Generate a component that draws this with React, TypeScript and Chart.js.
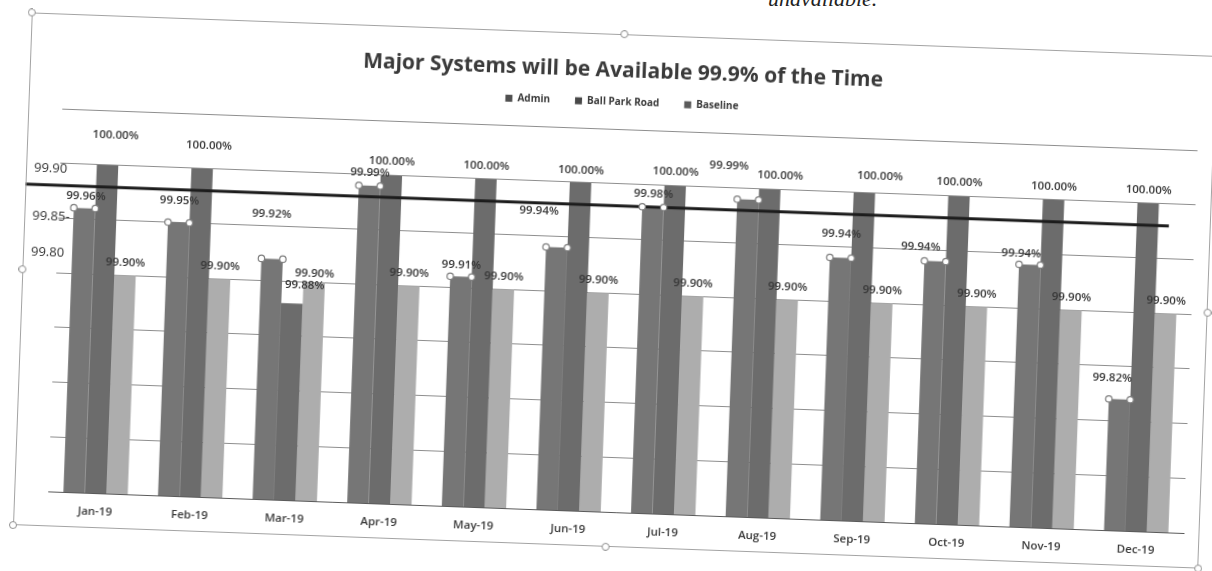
import React, { useEffect, useRef } from "react";
import { Chart, registerables } from "chart.js";

Chart.register(...registerables);
Chart.defaults.font.family = '"Open Sans", "Liberation Sans", sans-serif';

// ---- data ----
const MONTHS = [
  "Jan-19", "Feb-19", "Mar-19", "Apr-19", "May-19", "Jun-19",
  "Jul-19", "Aug-19", "Sep-19", "Oct-19", "Nov-19", "Dec-19",
];
const ADMIN = [99.96, 99.95, 99.92, 99.99, 99.91, 99.94, 99.98, 99.99, 99.94, 99.94, 99.94, 99.82];
const BALL_PARK_ROAD = [100.0, 100.0, 99.88, 100.0, 100.0, 100.0, 100.0, 100.0, 100.0, 100.0, 100.0, 100.0];
const BASELINE = [99.9, 99.9, 99.9, 99.9, 99.9, 99.9, 99.9, 99.9, 99.9, 99.9, 99.9, 99.9];

// heavy reference line across the plot
const TARGET_LEVEL = 99.98;

// hand-written notes on the left of the value axis
const SIDE_NOTES = ["99.90", "99.85-", "99.80"];
const SIDE_NOTE_LEVELS = [99.995, 99.951, 99.918];

// value axis range
const Y_MIN = 99.7;
const Y_MAX = 100.05;
const Y_STEP = 0.05;

// ---- label placement (px above the bar top, px sideways) ----
const ADMIN_LIFT = [12, 22, 45, 13, 12, 36, 13, 33, 24, 14, 11, 21];
const ADMIN_SHIFT = [1, 0, -2, 0, 0, -19, 0, -20, 0, -15, -9, -8];
const BPR_LIFT = [30, 23, 18, 14, 13, 12, 14, 14, 17, 14, 13, 13];
const BPR_SHIFT = [7, 6, 12, 0, 0, 0, 0, 10, 15, 0, 0, 0];
const BASE_LIFT = [13, 13, 9, 13, 13, 13, 13, 13, 13, 13, 13, 13];
const BASE_SHIFT = [0, 0, 0, 0, 0, 0, 0, 0, 0, 0, 0, 0];

const LIFTS = [ADMIN_LIFT, BPR_LIFT, BASE_LIFT];
const SHIFTS = [ADMIN_SHIFT, BPR_SHIFT, BASE_SHIFT];

// bar fills and the darker legend swatches
const FILLS = ["#767676", "#6c6c6c", "#adadad"];
const SWATCHES = ["#505050", "#484848", "#5a5a5a"];

const FRAME_W = 1186;
const FRAME_H = 513;

const legendGap = {
  id: "legendGap",
  beforeInit(chart: any) {
    const legend = chart.legend;
    if (!legend) return;
    const fit = legend.fit;
    legend.fit = function () {
      fit.call(this);
      this.height += 12;
    };
  },
};

const targetLine = {
  id: "targetLine",
  afterDatasetsDraw(chart: any) {
    const { ctx } = chart;
    const y = chart.scales.y.getPixelForValue(TARGET_LEVEL);
    const lastBase = chart.getDatasetMeta(2).data[MONTHS.length - 1];
    ctx.save();
    ctx.strokeStyle = "#1c1c1c";
    ctx.lineWidth = 3;
    ctx.beginPath();
    ctx.moveTo(0, y);
    ctx.lineTo(lastBase.x, y);
    ctx.stroke();
    ctx.restore();
  },
};

const barLabels = {
  id: "barLabels",
  afterDraw(chart: any) {
    const { ctx } = chart;
    ctx.save();
    ctx.font = '600 11.5px "Open Sans", sans-serif';
    ctx.fillStyle = "#363636";
    ctx.textAlign = "center";
    ctx.textBaseline = "middle";
    chart.data.datasets.forEach((ds: any, di: number) => {
      const meta = chart.getDatasetMeta(di);
      meta.data.forEach((bar: any, i: number) => {
        const v = ds.data[i] as number;
        ctx.fillText(v.toFixed(2) + "%", bar.x + SHIFTS[di][i], bar.y - LIFTS[di][i]);
      });
    });
    ctx.restore();
  },
};

// selection handles on the corners of the Admin bars
const seriesHandles = {
  id: "seriesHandles",
  afterDraw(chart: any) {
    const { ctx } = chart;
    const meta = chart.getDatasetMeta(0);
    ctx.save();
    ctx.fillStyle = "#ffffff";
    ctx.strokeStyle = "#7d7d7d";
    ctx.lineWidth = 1.2;
    meta.data.forEach((bar: any) => {
      const half = bar.width / 2;
      const pts = [
        [bar.x - half, bar.y],
        [bar.x + half, bar.y],
        [bar.x - half, bar.base],
        [bar.x + half, bar.base],
      ];
      pts.forEach(([px, py]) => {
        ctx.beginPath();
        ctx.arc(px, py, 3.2, 0, Math.PI * 2);
        ctx.fill();
        ctx.stroke();
      });
    });
    ctx.restore();
  },
};

const sideNotes = {
  id: "sideNotes",
  afterDraw(chart: any) {
    const { ctx, chartArea } = chart;
    const yScale = chart.scales.y;
    ctx.save();
    ctx.font = '500 13px "Open Sans", sans-serif';
    ctx.fillStyle = "#333333";
    ctx.textAlign = "left";
    ctx.textBaseline = "middle";
    SIDE_NOTES.forEach((t, i) => {
      ctx.fillText(t, chartArea.left - 26, yScale.getPixelForValue(SIDE_NOTE_LEVELS[i]));
    });
    ctx.restore();
  },
};

export default function App() {
  const ref = useRef<HTMLCanvasElement>(null);

  useEffect(() => {
    const canvas = ref.current;
    if (!canvas) return;
    const chart = new Chart(canvas, {
      type: "bar",
      data: {
        labels: MONTHS,
        datasets: [
          { label: "Admin", data: ADMIN, backgroundColor: FILLS[0] },
          { label: "Ball Park Road", data: BALL_PARK_ROAD, backgroundColor: FILLS[1] },
          { label: "Baseline", data: BASELINE, backgroundColor: FILLS[2] },
        ],
      },
      options: {
        responsive: false,
        animation: false,
        devicePixelRatio: 1,
        layout: { padding: { top: 0, bottom: 9, left: 0, right: 0 } },
        datasets: {
          bar: { categoryPercentage: 0.68, barPercentage: 1, borderWidth: 0 },
        },
        plugins: {
          title: {
            display: true,
            text: "Major Systems will be Available 99.9% of the Time",
            color: "#3a3a3a",
            font: { size: 21, weight: "bold" },
            padding: { top: 24, bottom: -11 },
          },
          legend: {
            display: true,
            labels: {
              boxWidth: 7,
              boxHeight: 7,
              padding: 25,
              color: "#3a3a3a",
              font: { size: 10, weight: "bold" },
              generateLabels: (chart: any) =>
                Chart.defaults.plugins.legend.labels
                  .generateLabels(chart)
                  .map((item: any, i: number) => ({
                    ...item,
                    fillStyle: SWATCHES[i],
                    strokeStyle: SWATCHES[i],
                    lineWidth: 0,
                  })),
            },
          },
          tooltip: { enabled: false },
        },
        scales: {
          x: {
            grid: { display: false, drawTicks: false },
            border: { display: true, color: "#5a5a5a", width: 1 },
            ticks: {
              padding: 12,
              color: "#3a3a3a",
              font: { size: 11.5, weight: "600" },
            },
            afterFit: (scale: any) => {
              scale.height = 26;
            },
          },
          y: {
            min: Y_MIN,
            max: Y_MAX,
            ticks: { display: false, stepSize: Y_STEP },
            grid: { color: "#8e8e8e", lineWidth: 1, drawTicks: false },
            border: { display: false },
            afterFit: (scale: any) => {
              scale.width = 34;
            },
          },
          yRight: {
            type: "linear",
            position: "right",
            display: true,
            grid: { display: false, drawTicks: false },
            ticks: { display: false },
            border: { display: false },
            afterFit: (scale: any) => {
              scale.width = 16;
            },
          },
        },
      },
      plugins: [legendGap, targetLine, barLabels, seriesHandles, sideNotes],
    } as any);
    return () => chart.destroy();
  }, []);

  const handleSpots: [string, string][] = [
    ["0%", "0%"], ["50%", "0%"], ["100%", "0%"],
    ["0%", "50%"], ["100%", "50%"],
    ["0%", "100%"], ["50%", "100%"], ["100%", "100%"],
  ];

  return (
    <div style={{ position: "fixed", inset: 0, overflow: "hidden", background: "#ffffff" }}>
      <div
        style={{
          position: "absolute",
          left: 768,
          top: -12.5,
          font: 'italic 22px "Liberation Serif", serif',
          lineHeight: 1,
          color: "#222222",
          whiteSpace: "nowrap",
        }}
      >
        unavailable.
      </div>
      <div
        style={{
          position: "absolute",
          left: 21.5,
          top: 34,
          width: FRAME_W,
          height: FRAME_H,
          transform: "rotate(2.1deg)",
          transformOrigin: "50% 50%",
          background: "#ffffff",
        }}
      >
        <canvas
          ref={ref}
          width={FRAME_W}
          height={FRAME_H}
          style={{ position: "absolute", left: 0, top: 0, width: FRAME_W, height: FRAME_H, display: "block" }}
        />
        <div
          style={{
            position: "absolute",
            inset: 0,
            border: "1px solid #a3a3a3",
            pointerEvents: "none",
          }}
        />
        {handleSpots.map(([l, t], i) => (
          <div
            key={i}
            style={{
              position: "absolute",
              left: l,
              top: t,
              width: 8,
              height: 8,
              borderRadius: "50%",
              border: "1.5px solid #8f8f8f",
              background: "#ffffff",
              transform: "translate(-50%, -50%)",
              boxSizing: "border-box",
            }}
          />
        ))}
      </div>
    </div>
  );
}
